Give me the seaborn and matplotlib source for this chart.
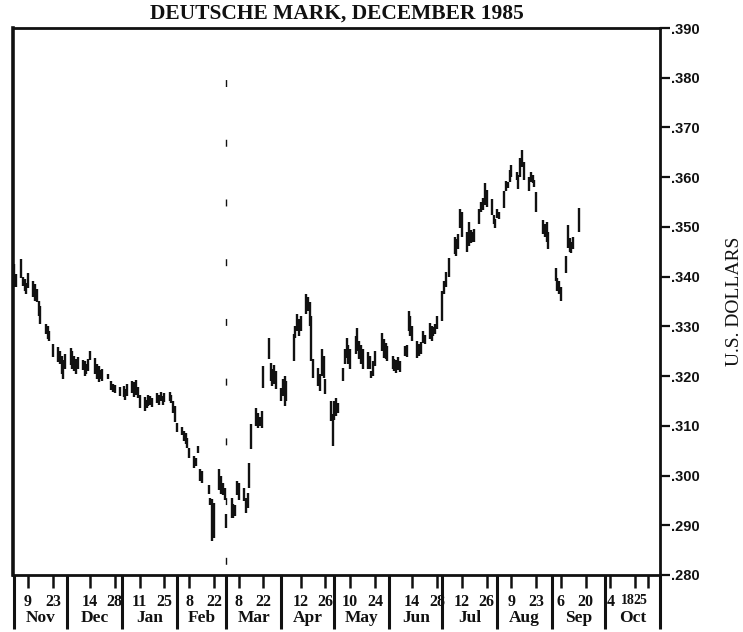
import matplotlib
matplotlib.use("Agg")
import matplotlib.pyplot as plt
import numpy as np
import pandas as pd
import seaborn as sns

nan = np.nan

# ── Data: December 1985 Deutsche Mark futures, daily high / low (US$) ────────
FIRST_DAY = "1984-11-01"
LAST_DAY = "1985-09-16"
HOLIDAYS = ["1984-11-22", "1984-12-25", "1985-01-01", "1985-02-18",
            "1985-04-05", "1985-05-27", "1985-07-04", "1985-09-02"]

HIGHS = [
    # Nov
    0.3425, 0.3405, 0.3436, 0.3400, 0.3395, 0.3388, 0.3408, 0.3392, 0.3385, 0.3375, 0.3352,
    0.3340, 0.3305, 0.3300, 0.3290, 0.3265, 0.3258, 0.3250, 0.3240, 0.3232, 0.3245,
    # Dec
    0.3257, 0.3250, 0.3240, 0.3235, 0.3238, 0.3232, 0.3230, 0.3225, 0.3235, 0.3251,
    0.3237, 0.3225, 0.3220, 0.3212, 0.3215, 0.3204, 0.3190, 0.3185, 0.3182, 0.3178,
    # Jan
    0.3180, 0.3175, 0.3184, 0.3190, 0.3188, 0.3192, 0.3178, 0.3162, 0.3158, 0.3152, 0.3162,
    0.3160, 0.3155, 0.3165, 0.3162, 0.3168, 0.3160, 0.3165, 0.3168, 0.3162, 0.3150, 0.3140,
    # Feb
    0.3105, 0.3098, 0.3090, 0.3085, 0.3075, 0.3055, 0.3040, 0.3035, 0.3060, 0.3013,
    0.3010, 0.2980, 0.2955, 0.2953, 0.2945, 0.3013, 0.3000, 0.2985, 0.2975,
    # Mar
    0.2922, 0.2954, 0.2942, 0.2940, 0.2989, 0.2985, 0.2975, 0.2954, 0.2965, 0.3025, 0.3104,
    0.3136, 0.3125, 0.3118, 0.3130, 0.3220, 0.3277, 0.3227, 0.3215, 0.3222, 0.3210,
    # Apr
    0.3176, 0.3195, 0.3200, 0.3190, 0.3285, 0.3300, 0.3325, 0.3315, 0.3320, 0.3366, 0.3360,
    0.3348, 0.3320, 0.3235, 0.3217, 0.3205, 0.3255, 0.3240, 0.3194, 0.3150, 0.3123,
    # May
    0.3150, 0.3156, 0.3145, 0.3217, 0.3255, 0.3277, 0.3262, 0.3255, 0.3280, 0.3297, 0.3270,
    0.3262, 0.3255, 0.3248, 0.3240, 0.3210, 0.3230, 0.3251, 0.3287, 0.3275, 0.3267, 0.3260,
    # Jun
    0.3240, 0.3235, 0.3232, 0.3238, 0.3230, 0.3260, 0.3262, 0.3331, 0.3320, 0.3300,
    0.3270, 0.3265, 0.3268, 0.3290, 0.3282, 0.3307, 0.3300, 0.3298, 0.3305, 0.3320,
    # Jul
    0.3372, 0.3392, 0.3410, 0.3438, 0.3479, 0.3475, 0.3485, 0.3537, 0.3530, 0.3490, 0.3510,
    0.3493, 0.3490, 0.3495, 0.3537, 0.3550, 0.3559, 0.3589, 0.3575, 0.3557, 0.3523, 0.3515,
    # Aug
    0.3537, 0.3530, 0.3573, 0.3593, 0.3590, 0.3615, 0.3624, 0.3610, 0.3604, 0.3638, 0.3654,
    0.3630, 0.3600, 0.3610, 0.3605, 0.3594, 0.3570, nan, 0.3513, 0.3505, 0.3509, 0.3490,
    # Sep
    0.3418, 0.3398, 0.3392, 0.3380, 0.3442, 0.3503, 0.3477, 0.3470, 0.3480, 0.3539,
]

LOWS = [
    # Nov
    0.3380, 0.3380, 0.3398, 0.3382, 0.3372, 0.3366, 0.3378, 0.3360, 0.3352, 0.3350, 0.3320,
    0.3305, 0.3285, 0.3275, 0.3270, 0.3238, 0.3228, 0.3225, 0.3205, 0.3195, 0.3215,
    # Dec
    0.3222, 0.3215, 0.3210, 0.3205, 0.3215, 0.3212, 0.3200, 0.3205, 0.3210, 0.3232,
    0.3205, 0.3195, 0.3188, 0.3195, 0.3190, 0.3194, 0.3172, 0.3168, 0.3165, 0.3160,
    # Jan
    0.3158, 0.3152, 0.3160, 0.3165, 0.3158, 0.3162, 0.3155, 0.3135, 0.3130, 0.3135, 0.3140,
    0.3142, 0.3138, 0.3145, 0.3142, 0.3150, 0.3142, 0.3148, 0.3150, 0.3145, 0.3125, 0.3108,
    # Feb
    0.3088, 0.3082, 0.3070, 0.3063, 0.3055, 0.3035, 0.3015, 0.3020, 0.3045, 0.2990,
    0.2985, 0.2962, 0.2940, 0.2868, 0.2875, 0.2970, 0.2963, 0.2960, 0.2950,
    # Mar
    0.2894, 0.2915, 0.2914, 0.2918, 0.2960, 0.2950, 0.2948, 0.2924, 0.2935, 0.2975, 0.3053,
    0.3100, 0.3096, 0.3100, 0.3096, 0.3176, 0.3235, 0.3190, 0.3180, 0.3185, 0.3174,
    # Apr
    0.3150, 0.3160, 0.3140, 0.3150, 0.3230, 0.3277, 0.3290, 0.3280, 0.3290, 0.3325, 0.3330,
    0.3300, 0.3230, 0.3196, 0.3180, 0.3170, 0.3200, 0.3196, 0.3164, 0.3110, 0.3060,
    # May
    0.3112, 0.3120, 0.3125, 0.3190, 0.3225, 0.3237, 0.3225, 0.3214, 0.3245, 0.3250, 0.3235,
    0.3225, 0.3215, 0.3214, 0.3215, 0.3196, 0.3200, 0.3220, 0.3250, 0.3237, 0.3235, 0.3230,
    # Jun
    0.3215, 0.3210, 0.3206, 0.3212, 0.3208, 0.3240, 0.3238, 0.3290, 0.3281, 0.3270,
    0.3237, 0.3240, 0.3245, 0.3267, 0.3265, 0.3275, 0.3270, 0.3280, 0.3285, 0.3295,
    # Jul
    0.3310, 0.3365, 0.3380, 0.3400, 0.3445, 0.3442, 0.3455, 0.3497, 0.3480, 0.3450, 0.3462,
    0.3467, 0.3470, 0.3470, 0.3505, 0.3530, 0.3535, 0.3545, 0.3540, 0.3523, 0.3505, 0.3497,
    # Aug
    0.3517, 0.3515, 0.3539, 0.3573, 0.3578, 0.3590, 0.3600, 0.3595, 0.3577, 0.3600, 0.3620,
    0.3595, 0.3573, 0.3590, 0.3588, 0.3580, 0.3529, nan, 0.3485, 0.3479, 0.3470, 0.3456,
    # Sep
    0.3392, 0.3372, 0.3365, 0.3352, 0.3408, 0.3458, 0.3450, 0.3448, 0.3455, 0.3489,
]

TICK_DATES = ["1984-11-09", "1984-11-23", "1984-12-14", "1984-12-28",
              "1985-01-11", "1985-01-25", "1985-02-08", "1985-02-22",
              "1985-03-08", "1985-03-22", "1985-04-12", "1985-04-26",
              "1985-05-10", "1985-05-24", "1985-06-14", "1985-06-28",
              "1985-07-12", "1985-07-26", "1985-08-09", "1985-08-23",
              "1985-09-06", "1985-09-20", "1985-10-04", "1985-10-18",
              "1985-10-25"]
MONTHS = ["Nov", "Dec", "Jan", "Feb", "Mar", "Apr",
          "May", "Jun", "Jul", "Aug", "Sep", "Oct"]
Y_TICKS = [0.280, 0.290, 0.300, 0.310, 0.320, 0.330,
           0.340, 0.350, 0.360, 0.370, 0.380, 0.390]

TITLE = "DEUTSCHE MARK, DECEMBER 1985"
Y_LABEL = "U.S. DOLLARS"

# ── Style ────────────────────────────────────────────────────────────────────
sns.set_theme(style="white")
plt.rcParams["font.family"] = ["Liberation Serif", "DejaVu Serif"]
INK = "#111111"

days = pd.bdate_range(FIRST_DAY, LAST_DAY, freq="C", holidays=HOLIDAYS)
assert len(days) == len(HIGHS) == len(LOWS), (len(days), len(HIGHS), len(LOWS))
df = pd.DataFrame({"date": days, "high": HIGHS, "low": LOWS}).dropna()

fig = plt.figure(figsize=(7.43, 6.32), dpi=100)
fig.patch.set_facecolor("white")
ax = fig.add_axes([13 / 743, 57 / 632, 647 / 743, 547 / 632])
ax.set_facecolor("white")

# daily high-low bars
ax.vlines(df["date"], df["low"], df["high"], color=INK, lw=1.7)

ax.set_xlim(pd.Timestamp("1984-10-31 12:00"), pd.Timestamp("1985-11-01"))
ax.set_ylim(Y_TICKS[0], Y_TICKS[-1])

for side in ["left", "right", "top", "bottom"]:
    ax.spines[side].set_color(INK)
    ax.spines[side].set_linewidth(2.0)
ax.spines["left"].set_linewidth(2.6)

# right-hand price axis
ax.yaxis.tick_right()
ax.set_yticks(Y_TICKS)
ax.set_yticklabels([f"{v:.3f}"[1:] for v in Y_TICKS],
                   fontfamily="Liberation Sans", fontweight="bold", fontsize=10.5)
ax.tick_params(axis="y", which="both", left=False, right=True, direction="out",
               length=7, width=1.6, pad=1, colors=INK)
ax.yaxis.set_label_position("right")
ax.set_ylabel(Y_LABEL, fontsize=14, color=INK)
ax.yaxis.set_label_coords(1.1025, 0.5)

# bottom axis: fortnightly Fridays + month names
ticks = pd.to_datetime(TICK_DATES)
ax.set_xticks(ticks)
ax.set_xticklabels([str(t.day) for t in ticks], fontweight="bold", fontsize=11.5)
# the last two October labels are squeezed in left of their ticks, as in the source
for lbl in ax.get_xticklabels()[-2:]:
    lbl.set_horizontalalignment("right")
    lbl.set_fontsize(10)
month_starts = pd.date_range("1984-11-01", "1985-11-01", freq="MS")
month_mids = month_starts[:-1] + (month_starts[1:] - month_starts[:-1]) / 2
ax.set_xticks(month_mids, minor=True)
ax.set_xticklabels(MONTHS, minor=True, fontsize=12.5, fontweight="bold")
ax.tick_params(axis="x", which="major", bottom=True, direction="out",
               length=9, width=1.8, pad=4.5, colors=INK)
ax.tick_params(axis="x", which="minor", bottom=True, length=0, pad=25.5, colors=INK)

# month dividers hanging below the frame
ax.vlines(month_starts, -0.098, 0, transform=ax.get_xaxis_transform(),
          clip_on=False, color=INK, lw=2.2)
# faint fold mark continuing the March divider
ax.vlines(pd.Timestamp("1985-03-01"), -0.09, 0.975, transform=ax.get_xaxis_transform(),
          clip_on=False, color=INK, lw=1.0, linestyles=(0, (5, 38)))

fig.text(337 / 743, 1 - 14 / 632, TITLE, ha="center", va="center",
         fontsize=15.5, fontweight="bold", color=INK)

fig.savefig("out.png", dpi=100, facecolor="white")
